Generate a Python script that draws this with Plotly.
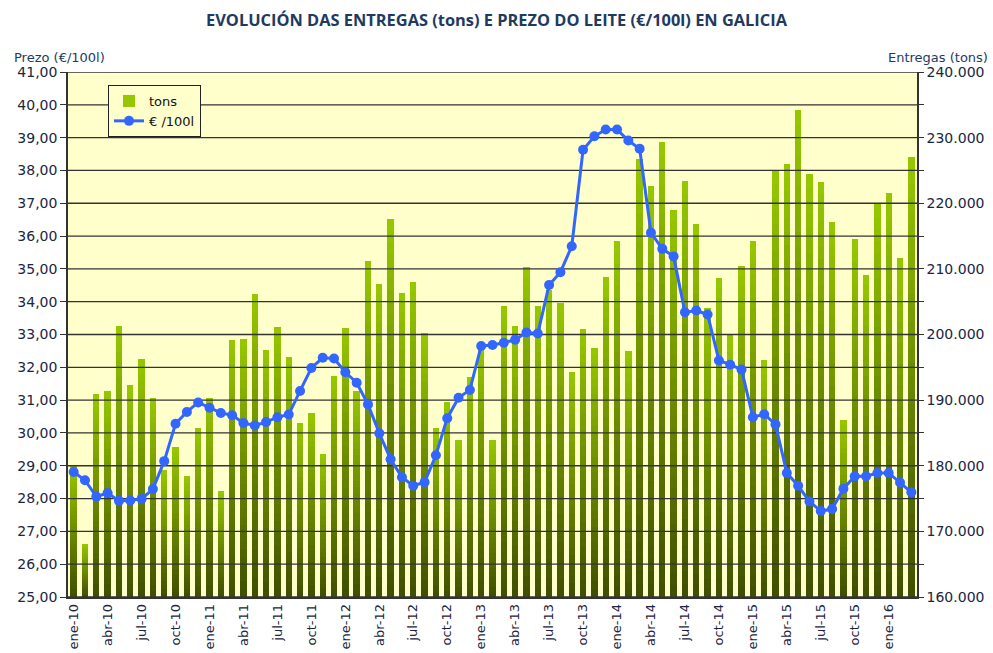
"""
Evolución das entregas de leite (tons) e prezo (€/100l) en Galicia.

Bars on the right axis (tons), price line on the left axis.
"""

import plotly.graph_objects as go

# Month labels ene-10 .. mar-16
MESES = ["ene", "feb", "mar", "abr", "may", "jun",
         "jul", "ago", "sep", "oct", "nov", "dic"]
ANOS = ["10", "11", "12", "13", "14", "15", "16"]
months = [f"{m}-{a}" for a in ANOS for m in MESES][:75]

# Monthly deliveries (tons)
tons = [
    180000, 168100, 190900, 191400, 201250, 192300, 196300, 190350, 179350, 182800, 178500, 185750,  # 2010
    190400, 176150, 199100, 199250, 206100, 197600, 201100, 196600, 186500, 188050, 181850, 193750,  # 2011
    200950, 191450, 211250, 207650, 217600, 206250, 208000, 200300, 185750, 189650, 183900, 193600,  # 2012
    198500, 183900, 204300, 201250, 210350, 204300, 206750, 204800, 194300, 200800, 198000, 208700,  # 2013
    214200, 197500, 226700, 222600, 229300, 219000, 223350, 216850, 204000, 208600, 199850, 210500,  # 2014
    214250, 196100, 224900, 226000, 234200, 224400, 223300, 217100, 187000, 214500, 209050, 219850,  # 2015
    221500, 211600, 227100,                                                                          # 2016
]

# Milk price (€/100l)
prices = [
    28.81, 28.56, 28.06, 28.17, 27.93, 27.94, 27.99, 28.29, 29.14, 30.28, 30.64, 30.93,  # 2010
    30.77, 30.61, 30.54, 30.30, 30.23, 30.33, 30.48, 30.56, 31.28, 31.98, 32.29, 32.27,  # 2011
    31.85, 31.53, 30.87, 29.99, 29.20, 28.65, 28.39, 28.50, 29.32, 30.45, 31.07, 31.31,  # 2012
    32.65, 32.68, 32.75, 32.84, 33.06, 33.03, 34.51, 34.90, 35.69, 38.63, 39.04, 39.25,  # 2013
    39.25, 38.91, 38.66, 36.10, 35.61, 35.38, 33.68, 33.73, 33.61, 32.21, 32.08, 31.93,  # 2014
    30.48, 30.57, 30.26, 28.78, 28.39, 27.91, 27.62, 27.68, 28.30, 28.68, 28.68, 28.78,  # 2015
    28.78, 28.49, 28.19,                                                                  # 2016
]

price_ticks = list(range(25, 42))          # 25,00 .. 41,00
tons_range = [160000, 240000]

FONT = "DejaVu Sans"
TEXT_COLOR = "#1a2540"
BG = "#FFFFCC"
GRID = "#333333"

# bar gradient: dark olive at the base, bright yellow-green at the top
DARK = (64, 80, 0)
LIGHT = (150, 198, 0)
STEPS = 32


def mix(t):
    r, g, b = (round(d + (l - d) * t) for d, l in zip(DARK, LIGHT))
    return f"rgb({r},{g},{b})"


x = list(range(len(months)))
base = tons_range[0]

fig = go.Figure()

# Gradient bars: stacked overlays, each shorter one darker
for k in range(STEPS, 0, -1):
    frac = k / STEPS
    fig.add_trace(go.Bar(
        x=x,
        y=[(v - base) * frac for v in tons],
        base=base,
        width=0.56,
        marker=dict(color=mix((k - 1) / (STEPS - 1)), line=dict(width=0)),
        name="tons",
        showlegend=(k == STEPS),
        legendgroup="tons",
        hoverinfo="skip" if k != STEPS else None,
        yaxis="y",
    ))

# Horizontal gridlines drawn over the bars but under the price line
gx, gy = [], []
for t in price_ticks:
    gx += [-0.5, len(months) - 0.5, None]
    gy += [t, t, None]
fig.add_trace(go.Scatter(
    x=gx, y=gy, mode="lines",
    line=dict(color=GRID, width=1.3),
    showlegend=False, hoverinfo="skip",
    yaxis="y2",
))

# Price line
fig.add_trace(go.Scatter(
    x=x,
    y=prices,
    mode="lines+markers",
    name="€ /100l",
    line=dict(color="#3366FF", width=3),
    marker=dict(color="#3366FF", size=10),
    yaxis="y2",
))

fig.update_layout(
    width=993,
    height=653,
    margin=dict(l=68, r=76, t=72, b=56),
    paper_bgcolor="white",
    plot_bgcolor=BG,
    separators=",.",
    barmode="overlay",
    bargap=0,
    font=dict(family=FONT, size=13, color=TEXT_COLOR),
    title=dict(
        text="<b>EVOLUCIÓN DAS ENTREGAS (tons) E PREZO DO LEITE (€/100l) EN GALICIA</b>",
        x=0.5, xref="container", xanchor="center",
        y=1 - 20 / 653, yref="container", yanchor="middle",
        font=dict(family="Open Sans", size=16.4, color="#1F3A60"),
    ),
    xaxis=dict(
        range=[-0.5, len(months) - 0.5],
        tickmode="array",
        tickvals=x[::3],
        ticktext=months[::3],
        tickangle=-90,
        tickfont=dict(family=FONT, size=13, color=TEXT_COLOR),
        showgrid=False,
        zeroline=False,
        showline=True,
        linecolor=GRID,
        linewidth=1.5,
        ticks="",
        automargin=False,
    ),
    yaxis=dict(
        side="right",
        range=tons_range,
        dtick=10000,
        tickformat=",d",
        showgrid=False,
        zeroline=False,
        showline=True,
        linecolor=GRID,
        linewidth=1.5,
        ticks="outside",
        ticklen=5,
        tickcolor=GRID,
        minor=dict(dtick=5000, ticks="outside", ticklen=5, tickcolor=GRID),
        tickfont=dict(family=FONT, size=14, color=TEXT_COLOR),
        automargin=False,
    ),
    yaxis2=dict(
        side="left",
        overlaying="y",
        range=[price_ticks[0], price_ticks[-1]],
        dtick=1,
        tickformat=".2f",
        showgrid=False,
        zeroline=False,
        showline=True,
        linecolor=GRID,
        linewidth=1.5,
        ticks="outside",
        ticklen=6,
        tickcolor=GRID,
        tickfont=dict(family=FONT, size=14, color=TEXT_COLOR),
        automargin=False,
    ),
    legend=dict(
        x=(108 - 68) / 849, y=(597 - 85) / 525,
        xanchor="left", yanchor="top",
        bgcolor=BG,
        bordercolor="#222222",
        borderwidth=1,
        font=dict(family=FONT, size=13, color="#111111"),
        traceorder="normal",
        tracegroupgap=0,
        itemwidth=30,
    ),
    annotations=[
        dict(text="Prezo (€/100l)", xref="paper", yref="paper",
             x=(12 - 68) / 849, y=(597 - 57) / 525,
             xanchor="left", yanchor="middle", showarrow=False,
             font=dict(family=FONT, size=13, color="#1F3A60")),
        dict(text="Entregas (tons)", xref="paper", yref="paper",
             x=(990 - 68) / 849, y=(597 - 57) / 525,
             xanchor="right", yanchor="middle", showarrow=False,
             font=dict(family=FONT, size=13, color="#1F3A60")),
    ],
    showlegend=True,
)

# drop the default page margin so the 993x653 figure fills the window exactly
fig.write_html(
    "out.html",
    config={"displayModeBar": False},
    post_script="document.body.style.margin='0';",
)
